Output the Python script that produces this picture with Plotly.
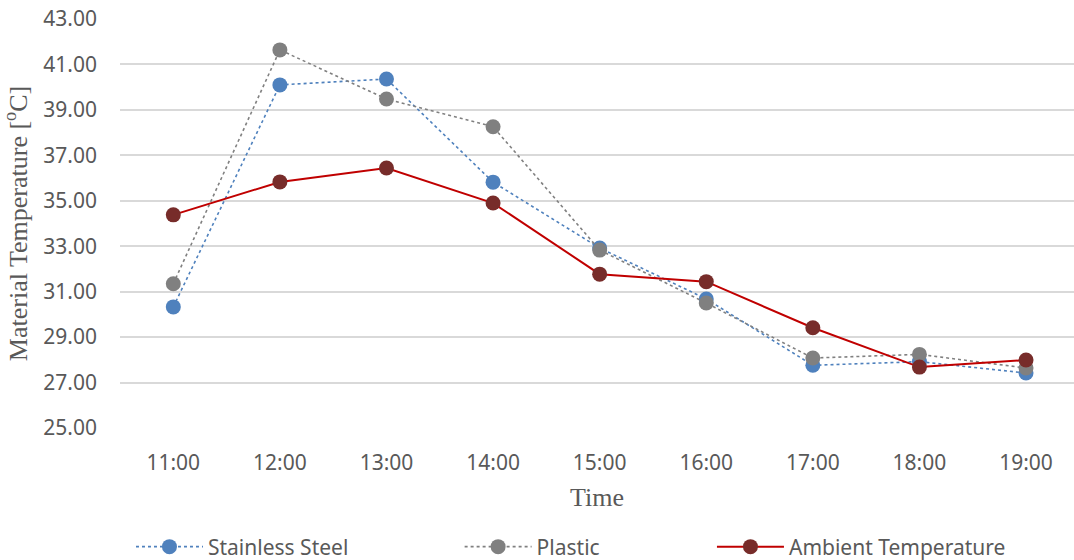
import plotly.graph_objects as go

times = ["11:00", "12:00", "13:00", "14:00", "15:00", "16:00", "17:00", "18:00", "19:00"]
stainless_steel = [30.33, 40.10, 40.36, 35.82, 32.92, 30.68, 27.76, 27.92, 27.42]
plastic = [31.35, 41.64, 39.48, 38.26, 32.83, 30.50, 28.08, 28.24, 27.64]
ambient = [34.38, 35.83, 36.44, 34.90, 31.77, 31.44, 29.41, 27.68, 27.99]
y_ticks = [25, 27, 29, 31, 33, 35, 37, 39, 41, 43]

sans = "Noto Sans, Open Sans, sans-serif"
tick_font = dict(family=sans, size=21, color="#595959")
serif = dict(family="Liberation Serif, Times New Roman, serif", size=26, color="#595959")
legend_font = dict(family=sans, size=21, color="#595959")

fig = go.Figure()
fig.add_trace(go.Scatter(
    x=times, y=stainless_steel, name="Stainless Steel", mode="lines+markers",
    line=dict(color="#4F81BD", width=1.6, dash="dot"),
    marker=dict(color="#4F81BD", size=15),
    legend="legend",
))
fig.add_trace(go.Scatter(
    x=times, y=plastic, name="Plastic", mode="lines+markers",
    line=dict(color="#808080", width=1.6, dash="dot"),
    marker=dict(color="#808080", size=15),
    legend="legend2",
))
fig.add_trace(go.Scatter(
    x=times, y=ambient, name="Ambient Temperature", mode="lines+markers",
    line=dict(color="#C00000", width=2),
    marker=dict(color="#772C2A", size=15),
    legend="legend3",
))

legend_common = dict(orientation="h", xanchor="left", y=-0.291, yanchor="middle",
                     font=legend_font, itemwidth=67, bgcolor="rgba(0,0,0,0)")

fig.update_layout(
    width=1074, height=560,
    margin=dict(l=120, r=0, t=19, b=132, autoexpand=False),
    plot_bgcolor="white", paper_bgcolor="white",
    showlegend=True,
    legend=dict(x=0.0115, **legend_common),
    legend2=dict(x=0.356, **legend_common),
    legend3=dict(x=0.6205, **legend_common),
    xaxis=dict(
        type="category", range=[-0.5, 8.45], showgrid=False, zeroline=False,
        showline=False, ticks="", tickfont=tick_font, ticklabelstandoff=20,
        automargin=False,
        title=dict(text="Time", font=serif, standoff=12),
    ),
    yaxis=dict(
        range=[25, 43], tickvals=y_ticks, tickformat=".2f",
        showgrid=True, gridcolor="#D9D9D9", gridwidth=1.5, zeroline=False,
        showline=False, ticks="", tickfont=tick_font, ticklabelstandoff=22,
        automargin=False,
        title=dict(text="Material Temperature [<sup>o</sup>C]", font=serif, standoff=10),
    ),
)

fig.write_html("out.html")
